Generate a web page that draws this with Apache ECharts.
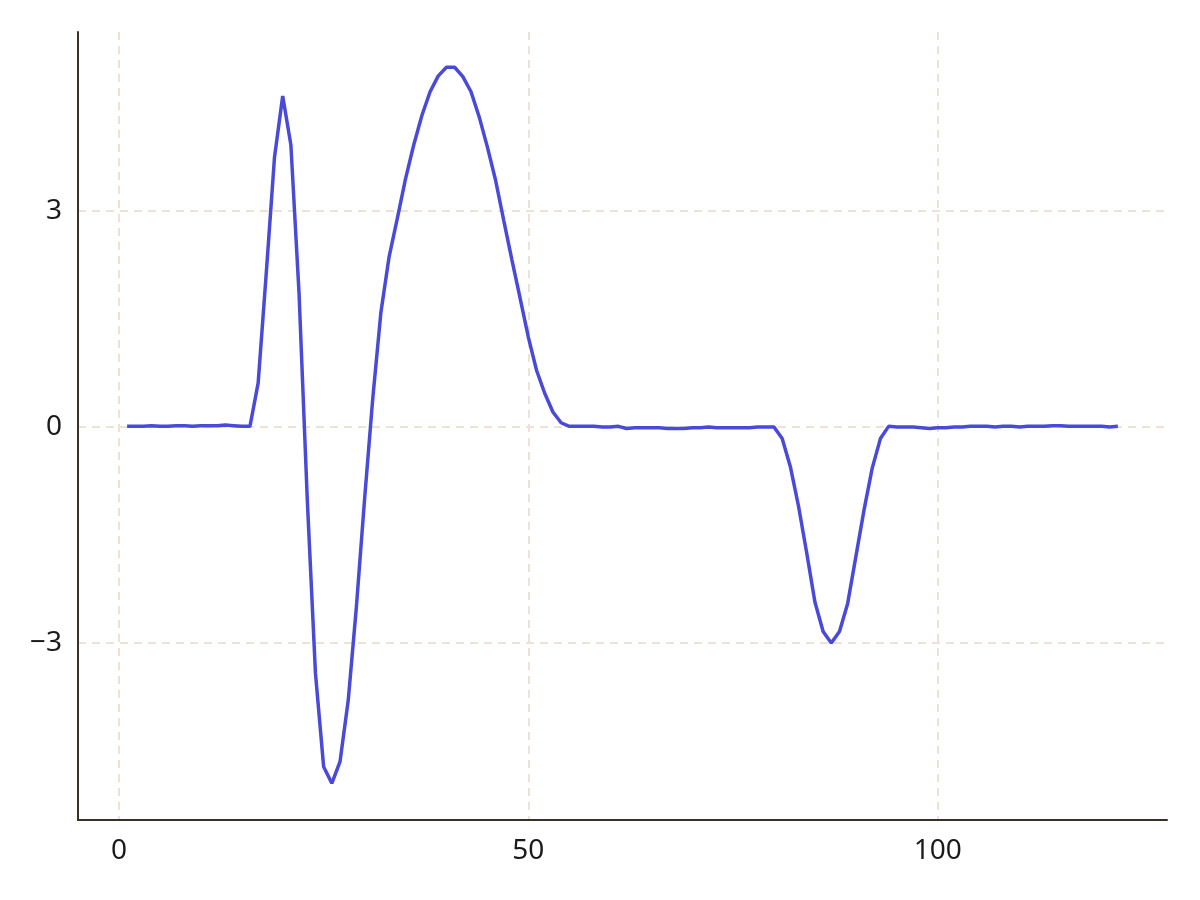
<!DOCTYPE html>
<html>
<head>
<meta charset="utf-8">
<script src="https://cdn.jsdelivr.net/npm/echarts@6/dist/echarts.min.js"></script>
<style>
html,body{margin:0;padding:0;background:#ffffff;}
#chart{width:1200px;height:900px;}
</style>
</head>
<body>
<div id="chart"></div>
<script>
// sample index (x) values
var xValues = [];
for (var i = 1; i <= 122; i++) { xValues.push(i); }

// series values, x = 1..122
var yValues = [
  0.01, 0.01, 0.01, 0.02, 0.01, 0.01, 0.02, 0.02, 0.01, 0.02,
  0.02, 0.02, 0.03, 0.02, 0.01, 0.01, 0.61, 2.15, 3.75, 4.60,
  3.92, 1.85, -1.00, -3.42, -4.72, -4.95, -4.65, -3.80, -2.50, -1.00,
  0.40, 1.60, 2.37, 2.90, 3.45, 3.92, 4.33, 4.66, 4.88, 5.00,
  5.00, 4.87, 4.66, 4.31, 3.89, 3.43, 2.87, 2.32, 1.79, 1.25,
  0.79, 0.47, 0.21, 0.06, 0.01, 0.01, 0.01, 0.01, 0.00, 0.00,
  0.01, -0.02, -0.01, -0.01, -0.01, -0.01, -0.02, -0.02, -0.02, -0.01,
  -0.01, 0.00, -0.01, -0.01, -0.01, -0.01, -0.01, 0.00, 0.00, 0.00,
  -0.16, -0.55, -1.10, -1.75, -2.43, -2.84, -3.00, -2.84, -2.45, -1.80,
  -1.15, -0.57, -0.16, 0.01, 0.00, 0.00, 0.00, -0.01, -0.02, -0.01,
  -0.01, 0.00, 0.00, 0.01, 0.01, 0.01, 0.00, 0.01, 0.01, 0.00,
  0.01, 0.01, 0.01, 0.02, 0.02, 0.01, 0.01, 0.01, 0.01, 0.01,
  0.00, 0.01
];

// tick labels
var xTicks = [0, 50, 100];
var yTicks = [-3, 0, 3];

var points = xValues.map(function (x, i) { return [x, yValues[i]]; });

var gridColor = '#ece2d5';
var axisColor = '#3a3026';
var labelFont = { color: '#1a1a1a', fontSize: 28, fontFamily: 'Noto Sans' };

var chart = echarts.init(document.getElementById('chart'), null, { renderer: 'canvas' });
chart.setOption({
  animation: false,
  backgroundColor: '#ffffff',
  grid: { left: 78, right: 33, top: 32, bottom: 80, containLabel: false },
  xAxis: {
    type: 'value',
    min: -5,
    max: 128,
    axisLine: { show: true, onZero: false, lineStyle: { color: axisColor, width: 2 } },
    axisTick: { show: false, customValues: xTicks },
    axisLabel: Object.assign({ customValues: xTicks, margin: 17 }, labelFont),
    splitLine: { show: true, lineStyle: { color: gridColor, width: 2, type: [8, 6] } }
  },
  yAxis: {
    type: 'value',
    min: -5.46,
    max: 5.49,
    axisLine: { show: true, onZero: false, lineStyle: { color: axisColor, width: 2 } },
    axisTick: { show: false, customValues: yTicks },
    axisLabel: Object.assign({
      customValues: yTicks, margin: 16,
      formatter: function (v) { return v < 0 ? '\u2212' + Math.abs(v) : String(v); }
    }, labelFont),
    splitLine: { show: true, lineStyle: { color: gridColor, width: 2, type: [8, 6] } }
  },
  series: [{
    type: 'line',
    data: points,
    showSymbol: false,
    symbol: 'none',
    lineStyle: { color: '#4a4ad8', width: 3.5 },
    z: 3
  }]
});
</script>
</body>
</html>
